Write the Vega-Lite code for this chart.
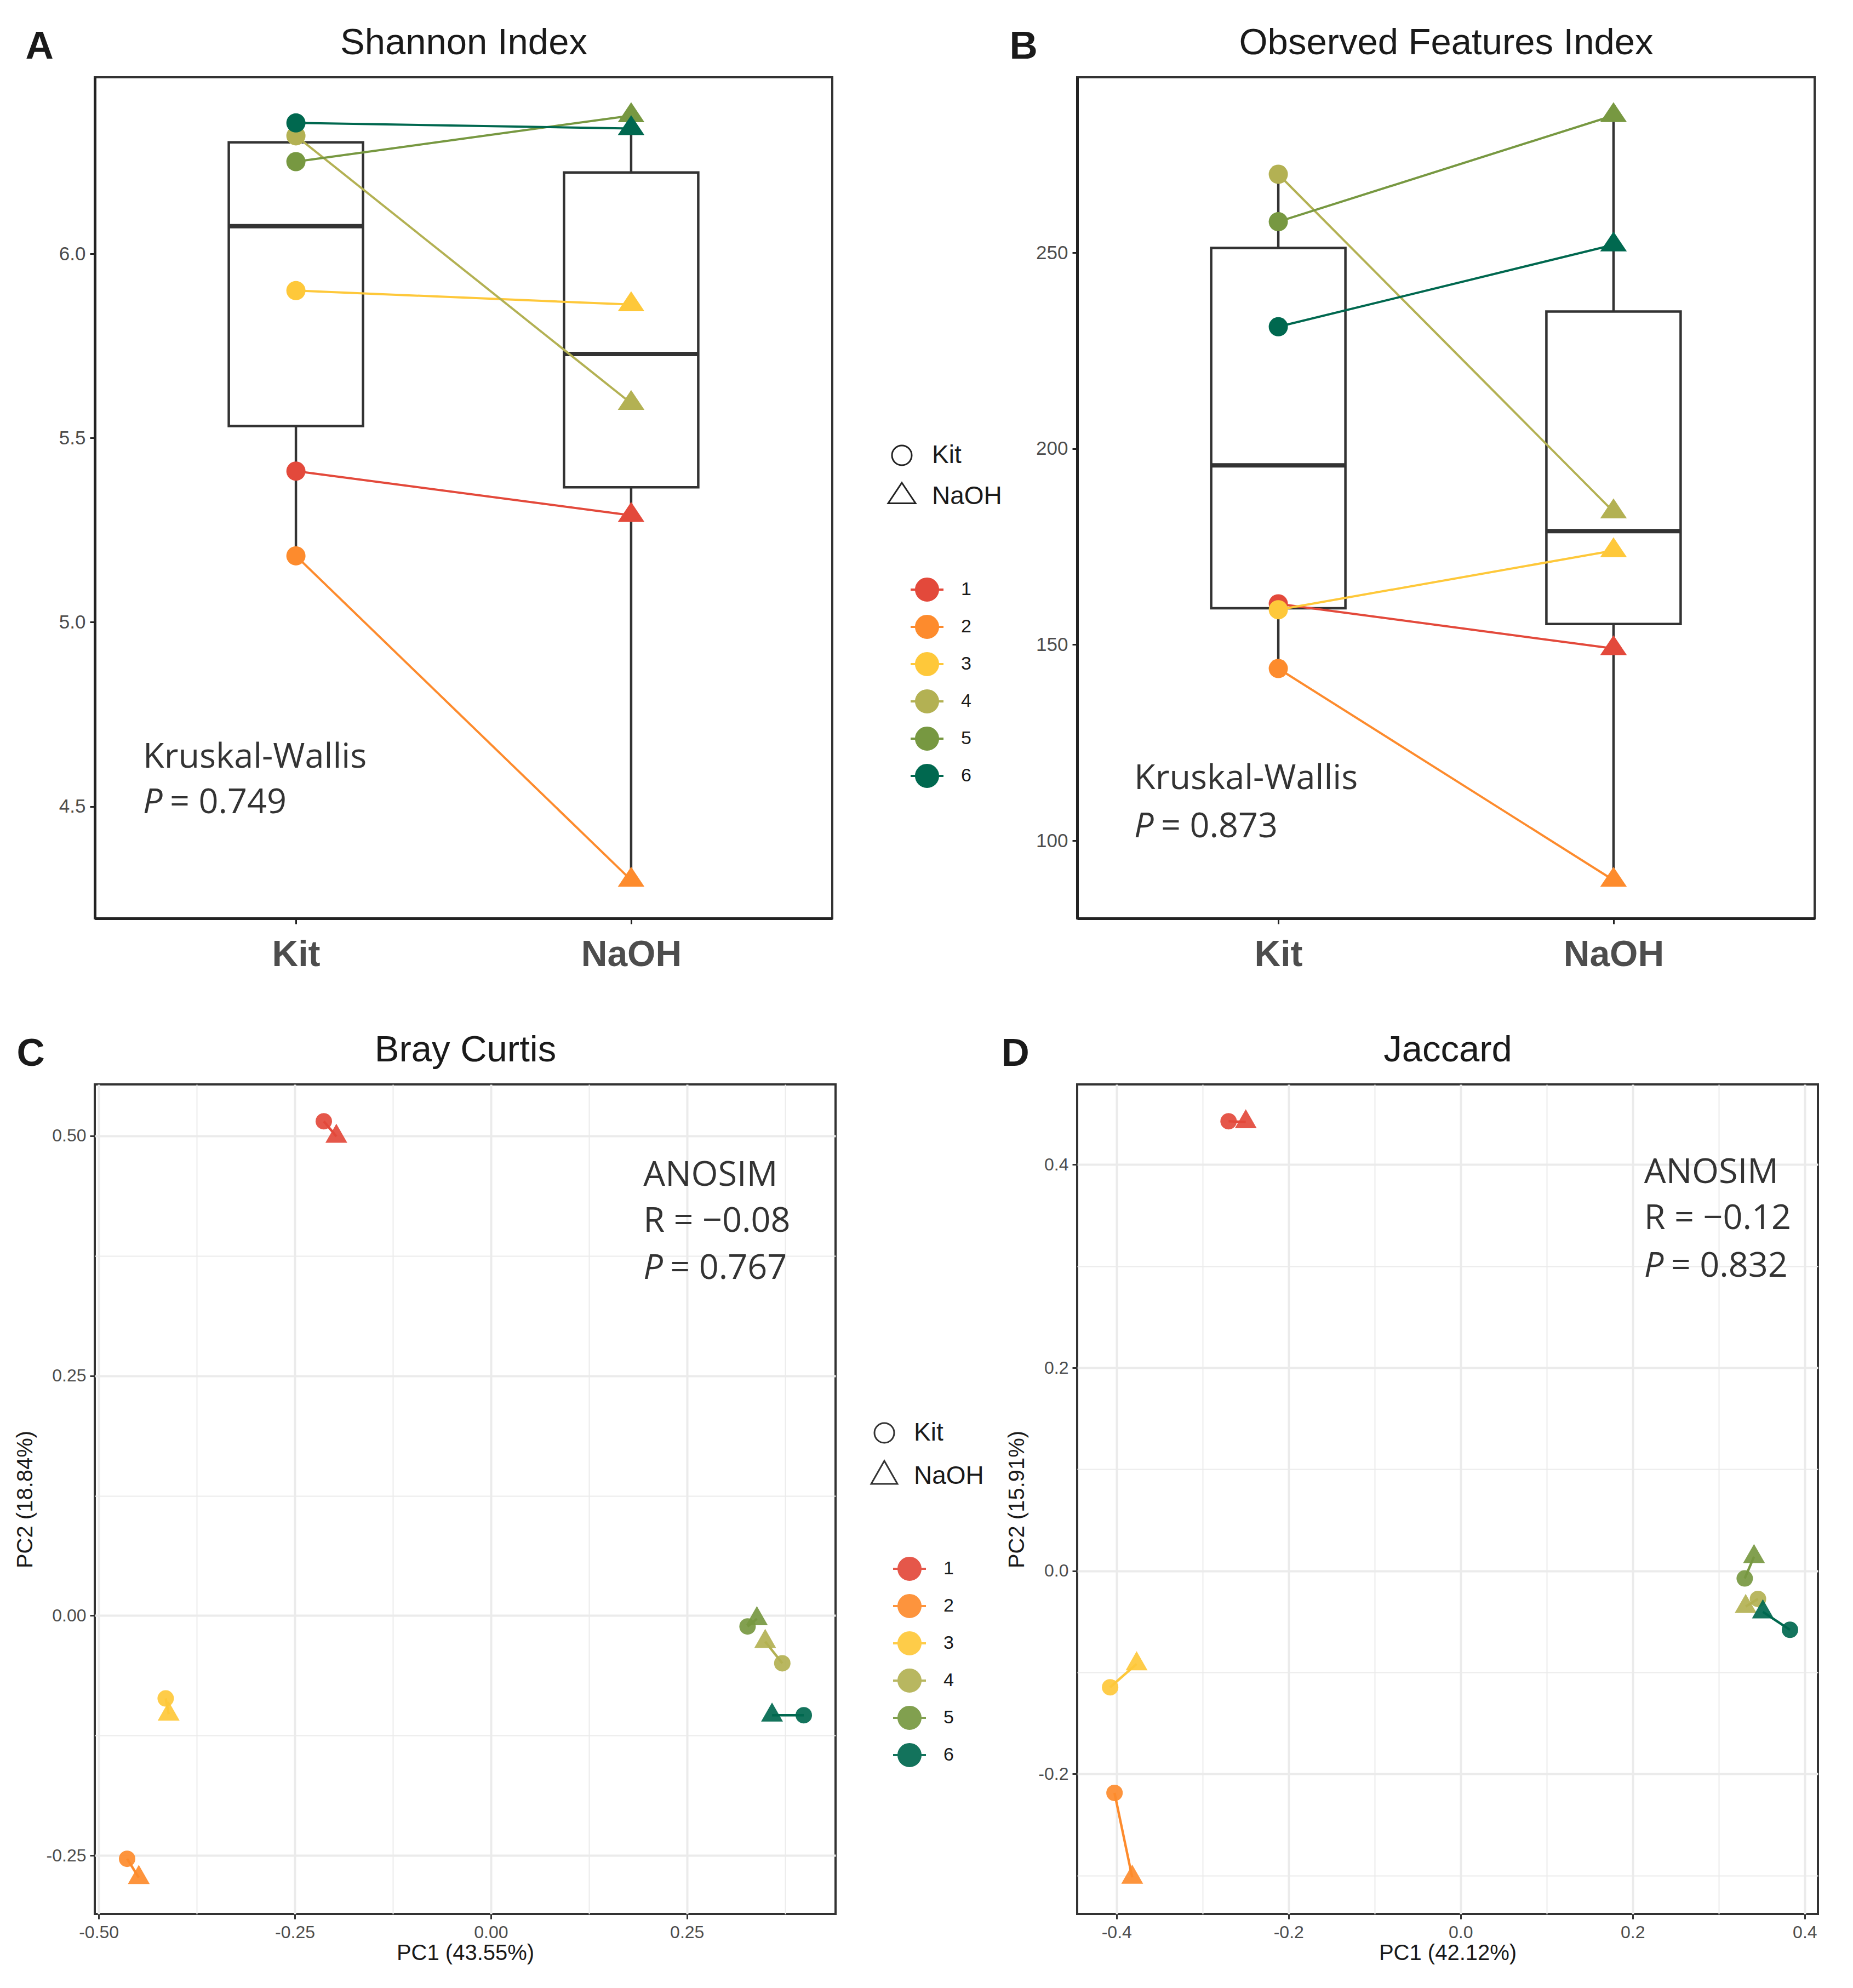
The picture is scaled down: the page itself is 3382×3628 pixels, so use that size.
{
  "$schema": "https://vega.github.io/schema/vega-lite/v6.json",
  "background": "white",
  "padding": {"left": 24, "top": 42, "right": 10, "bottom": 10},
  "bounds": "flush",
  "columns": 2,
  "spacing": {"row": 303, "column": 441},
  "resolve": {
    "scale": {"color": "independent", "shape": "independent"},
    "legend": {"color": "independent", "shape": "independent"}
  },
  "datasets": {
    "alpha": [
      {"subject": "1", "method": "Kit", "shannon": 5.41, "observed": 160.4},
      {"subject": "1", "method": "NaOH", "shannon": 5.29, "observed": 149.0},
      {"subject": "2", "method": "Kit", "shannon": 5.18, "observed": 143.9},
      {"subject": "2", "method": "NaOH", "shannon": 4.30, "observed": 89.9},
      {"subject": "3", "method": "Kit", "shannon": 5.90, "observed": 158.9},
      {"subject": "3", "method": "NaOH", "shannon": 5.862, "observed": 174.0},
      {"subject": "4", "method": "Kit", "shannon": 6.32, "observed": 270.0},
      {"subject": "4", "method": "NaOH", "shannon": 5.594, "observed": 183.9},
      {"subject": "5", "method": "Kit", "shannon": 6.25, "observed": 257.9},
      {"subject": "5", "method": "NaOH", "shannon": 6.375, "observed": 285.0},
      {"subject": "6", "method": "Kit", "shannon": 6.355, "observed": 231.1},
      {"subject": "6", "method": "NaOH", "shannon": 6.34, "observed": 252.0}
    ],
    "beta": [
      {"subject": "1", "method": "Kit", "bc1": -0.213, "bc2": 0.5152, "jac1": -0.2697, "jac2": 0.4427},
      {"subject": "1", "method": "NaOH", "bc1": -0.197, "bc2": 0.4994, "jac1": -0.2497, "jac2": 0.4421},
      {"subject": "2", "method": "Kit", "bc1": -0.4638, "bc2": -0.2534, "jac1": -0.4023, "jac2": -0.2187},
      {"subject": "2", "method": "NaOH", "bc1": -0.4489, "bc2": -0.273, "jac1": -0.3817, "jac2": -0.3019},
      {"subject": "3", "method": "Kit", "bc1": -0.4146, "bc2": -0.0863, "jac1": -0.4074, "jac2": -0.1147},
      {"subject": "3", "method": "NaOH", "bc1": -0.4108, "bc2": -0.1027, "jac1": -0.3766, "jac2": -0.0917},
      {"subject": "4", "method": "Kit", "bc1": 0.3716, "bc2": -0.0497, "jac1": 0.3457, "jac2": -0.0277},
      {"subject": "4", "method": "NaOH", "bc1": 0.3498, "bc2": -0.0271, "jac1": 0.3314, "jac2": -0.0352},
      {"subject": "5", "method": "Kit", "bc1": 0.3273, "bc2": -0.0113, "jac1": 0.3303, "jac2": -0.0075},
      {"subject": "5", "method": "NaOH", "bc1": 0.3392, "bc2": -0.0034, "jac1": 0.3411, "jac2": 0.0139},
      {"subject": "6", "method": "Kit", "bc1": 0.399, "bc2": -0.1038, "jac1": 0.3829, "jac2": -0.0581},
      {"subject": "6", "method": "NaOH", "bc1": 0.3585, "bc2": -0.1038, "jac1": 0.3514, "jac2": -0.0405}
    ]
  },
  "concat": [
    {
      "width": 1346,
      "height": 1535,
      "data": {"name": "alpha"},
      "resolve": {"axis": {"x": "independent", "y": "independent"}},
      "layer": [
        {
          "mark": {"type": "boxplot", "extent": "min-max", "size": 245, "ticks": false, "outliers": false,
            "box": {"color": "white", "stroke": "#333333", "strokeWidth": 4.5, "opacity": 1},
            "median": {"color": "#333333", "thickness": 8, "opacity": 1},
            "rule": {"color": "#333333", "strokeWidth": 4.5, "opacity": 1}},
          "encoding": {
            "x": {"field": "method", "type": "nominal", "scale": {"type": "point", "domain": ["Kit", "NaOH"], "padding": 0.6}, "axis": null},
            "y": {"field": "shannon", "type": "quantitative", "scale": {"domain": [4.196, 6.479], "nice": false, "zero": false}, "axis": null}
          }
        },
        {
          "mark": {"type": "line", "strokeWidth": 4},
          "encoding": {
            "x": {"field": "method", "type": "nominal", "axis": {"orient": "top", "labels": false, "ticks": false, "domain": false, "grid": false, "title": "Shannon Index", "titleX": 673, "titleY": -63, "titleAngle": 0, "titleAlign": "center", "titleBaseline": "middle", "titleFontSize": 67}},
            "y": {"field": "shannon", "type": "quantitative", "axis": null},
            "color": {"field": "subject", "type": "nominal", "scale": {"domain": ["1", "2", "3", "4", "5", "6"], "range": ["#E3493B", "#FD8B2D", "#FEC83A", "#B3B153", "#779841", "#00684F"]}},
            "detail": {"field": "subject"}
          }
        },
        {
          "mark": {"type": "point", "filled": true, "opacity": 1, "size": 1225},
          "encoding": {
            "x": {"field": "method", "type": "nominal", "axis": {"orient": "bottom", "title": null, "domain": true, "domainColor": "#222222", "domainWidth": 5, "tickSize": 10, "tickWidth": 3, "tickColor": "#222222", "labelFont": "Liberation Sans Narrow, Arial Narrow, Liberation Sans, sans-serif", "labelFontWeight": "bold", "labelFontSize": 66, "labelColor": "#4D4D4D", "labelPadding": 24, "labelAngle": 0, "labelAlign": "center", "labelBaseline": "top", "labelLimit": 600}},
            "y": {"field": "shannon", "type": "quantitative", "axis": {"orient": "left", "values": [4.5, 5, 5.5, 6], "format": ".1f", "domain": true, "domainColor": "#222222", "domainWidth": 5, "tickSize": 9, "tickWidth": 3, "tickColor": "#222222", "labelFontSize": 35, "labelPadding": 8, "title": "A", "titleX": -127, "titleY": -56, "titleAngle": 0, "titleAlign": "left", "titleBaseline": "middle", "titleFontSize": 71, "titleFontWeight": "bold"}},
            "color": {"field": "subject", "type": "nominal", "legend": {"title": null, "orient": "none", "legendX": 1487, "legendY": 903, "direction": "vertical", "symbolType": "M-1,0L1,0M0.667,0A0.667,0.667,0,1,1,-0.667,0A0.667,0.667,0,1,1,0.667,0Z", "symbolSize": 3600, "symbolStrokeWidth": 4, "labelFontSize": 34, "labelOffset": 30, "rowPadding": 7, "padding": 0}},
            "shape": {"field": "method", "type": "nominal", "scale": {"domain": ["Kit", "NaOH"], "range": ["circle", "M0,-1.39L1.39,0.69L-1.39,0.69Z"]}, "legend": {"title": null, "orient": "none", "legendX": 1450, "legendY": 667, "direction": "vertical", "symbolSize": 1296, "symbolFillColor": "transparent", "symbolStrokeColor": "#222222", "symbolStrokeWidth": 3, "labelFontSize": 46, "labelOffset": 32, "rowPadding": 19, "padding": 0}}
          }
        },
        {
          "data": {"values": [{"t": "Kruskal-Wallis"}]},
          "mark": {"type": "text", "align": "left", "baseline": "middle", "font": "Open Sans", "fontSize": 63, "color": "#333333", "dx": -279},
          "encoding": {"x": {"datum": "Kit", "type": "nominal", "axis": null}, "y": {"datum": 4.634, "type": "quantitative", "axis": null}, "text": {"field": "t"}}
        },
        {
          "data": {"values": [{"t": "P"}]},
          "mark": {"type": "text", "align": "left", "baseline": "middle", "font": "Open Sans", "fontStyle": "italic", "fontSize": 63, "color": "#333333", "dx": -279},
          "encoding": {"x": {"datum": "Kit", "type": "nominal", "axis": null}, "y": {"datum": 4.51, "type": "quantitative", "axis": null}, "text": {"field": "t"}}
        },
        {
          "data": {"values": [{"t": "= 0.749"}]},
          "mark": {"type": "text", "align": "left", "baseline": "middle", "font": "Open Sans", "fontSize": 63, "color": "#333333", "dx": -230},
          "encoding": {"x": {"datum": "Kit", "type": "nominal", "axis": null}, "y": {"datum": 4.51, "type": "quantitative", "axis": null}, "text": {"field": "t"}}
        }
      ]
    },
    {
      "width": 1346,
      "height": 1535,
      "data": {"name": "alpha"},
      "resolve": {"axis": {"x": "independent", "y": "independent"}},
      "layer": [
        {
          "mark": {"type": "boxplot", "extent": "min-max", "size": 245, "ticks": false, "outliers": false,
            "box": {"color": "white", "stroke": "#333333", "strokeWidth": 4.5, "opacity": 1},
            "median": {"color": "#333333", "thickness": 8, "opacity": 1},
            "rule": {"color": "#333333", "strokeWidth": 4.5, "opacity": 1}},
          "encoding": {
            "x": {"field": "method", "type": "nominal", "scale": {"type": "point", "domain": ["Kit", "NaOH"], "padding": 0.6}, "axis": null},
            "y": {"field": "observed", "type": "quantitative", "scale": {"domain": [80.15, 294.75], "nice": false, "zero": false}, "axis": null}
          }
        },
        {
          "mark": {"type": "line", "strokeWidth": 4},
          "encoding": {
            "x": {"field": "method", "type": "nominal", "axis": {"orient": "top", "labels": false, "ticks": false, "domain": false, "grid": false, "title": "Observed Features Index", "titleX": 673, "titleY": -63, "titleAngle": 0, "titleAlign": "center", "titleBaseline": "middle", "titleFontSize": 67}},
            "y": {"field": "observed", "type": "quantitative", "axis": null},
            "color": {"field": "subject", "type": "nominal", "scale": {"domain": ["1", "2", "3", "4", "5", "6"], "range": ["#E3493B", "#FD8B2D", "#FEC83A", "#B3B153", "#779841", "#00684F"]}, "legend": null},
            "detail": {"field": "subject"}
          }
        },
        {
          "mark": {"type": "point", "filled": true, "opacity": 1, "size": 1225},
          "encoding": {
            "x": {"field": "method", "type": "nominal", "axis": {"orient": "bottom", "title": null, "domain": true, "domainColor": "#222222", "domainWidth": 5, "tickSize": 10, "tickWidth": 3, "tickColor": "#222222", "labelFont": "Liberation Sans Narrow, Arial Narrow, Liberation Sans, sans-serif", "labelFontWeight": "bold", "labelFontSize": 66, "labelColor": "#4D4D4D", "labelPadding": 24, "labelAngle": 0, "labelAlign": "center", "labelBaseline": "top", "labelLimit": 600}},
            "y": {"field": "observed", "type": "quantitative", "axis": {"orient": "left", "values": [100, 150, 200, 250], "format": "d", "domain": true, "domainColor": "#222222", "domainWidth": 5, "tickSize": 9, "tickWidth": 3, "tickColor": "#222222", "labelFontSize": 35, "labelPadding": 8, "title": "B", "titleX": -124, "titleY": -56, "titleAngle": 0, "titleAlign": "left", "titleBaseline": "middle", "titleFontSize": 71, "titleFontWeight": "bold"}},
            "color": {"field": "subject", "type": "nominal", "legend": null},
            "shape": {"field": "method", "type": "nominal", "scale": {"domain": ["Kit", "NaOH"], "range": ["circle", "M0,-1.39L1.39,0.69L-1.39,0.69Z"]}, "legend": null}
          }
        },
        {
          "data": {"values": [{"t": "Kruskal-Wallis"}]},
          "mark": {"type": "text", "align": "left", "baseline": "middle", "font": "Open Sans", "fontSize": 63, "color": "#333333", "dx": -263},
          "encoding": {"x": {"datum": "Kit", "type": "nominal", "axis": null}, "y": {"datum": 115.8, "type": "quantitative", "axis": null}, "text": {"field": "t"}}
        },
        {
          "data": {"values": [{"t": "P"}]},
          "mark": {"type": "text", "align": "left", "baseline": "middle", "font": "Open Sans", "fontStyle": "italic", "fontSize": 63, "color": "#333333", "dx": -263},
          "encoding": {"x": {"datum": "Kit", "type": "nominal", "axis": null}, "y": {"datum": 103.5, "type": "quantitative", "axis": null}, "text": {"field": "t"}}
        },
        {
          "data": {"values": [{"t": "= 0.873"}]},
          "mark": {"type": "text", "align": "left", "baseline": "middle", "font": "Open Sans", "fontSize": 63, "color": "#333333", "dx": -214},
          "encoding": {"x": {"datum": "Kit", "type": "nominal", "axis": null}, "y": {"datum": 103.5, "type": "quantitative", "axis": null}, "text": {"field": "t"}}
        }
      ]
    },
    {
      "width": 1352,
      "height": 1514,
      "data": {"name": "beta"},
      "resolve": {"axis": {"x": "independent", "y": "independent"}},
      "layer": [
        {
          "mark": {"type": "line", "strokeWidth": 4.5},
          "encoding": {
            "x": {"field": "bc1", "type": "quantitative", "scale": {"domain": [-0.505, 0.4395], "nice": false, "zero": false}, "axis": {"orient": "bottom", "values": [-0.5, -0.25, 0, 0.25], "labelExpr": "(datum.value < 0 ? '-' : '') + format(abs(datum.value), '.2f')", "grid": true, "gridColor": "#EBEBEB", "gridWidth": 4, "domain": false, "tickSize": 9, "tickWidth": 3, "tickColor": "#333333", "labelFontSize": 32, "labelPadding": 9, "title": "PC1 (43.55%)", "titleX": 676, "titleY": 71, "titleAlign": "center", "titleBaseline": "middle", "titleFontSize": 40}},
            "y": {"field": "bc2", "type": "quantitative", "scale": {"domain": [-0.311, 0.5536], "nice": false, "zero": false}, "axis": {"orient": "left", "values": [-0.25, 0, 0.25, 0.5], "labelExpr": "(datum.value < 0 ? '-' : '') + format(abs(datum.value), '.2f')", "grid": true, "gridColor": "#EBEBEB", "gridWidth": 4, "domain": false, "tickSize": 9, "tickWidth": 3, "tickColor": "#333333", "labelFontSize": 32, "labelPadding": 7, "title": "PC2 (18.84%)", "titleX": -127, "titleY": 757, "titleAngle": -90, "titleAlign": "center", "titleBaseline": "middle", "titleFontSize": 40}},
            "color": {"field": "subject", "type": "nominal", "scale": {"domain": ["1", "2", "3", "4", "5", "6"], "range": ["#E3493B", "#FD8B2D", "#FEC83A", "#B3B153", "#779841", "#00684F"]}},
            "detail": {"field": "subject"}
          }
        },
        {
          "mark": {"type": "point", "filled": true, "opacity": 0.92, "size": 900},
          "encoding": {
            "x": {"field": "bc1", "type": "quantitative", "axis": {"orient": "top", "values": [-0.375, -0.125, 0.125, 0.375], "grid": true, "gridColor": "#EBEBEB", "gridWidth": 2, "labels": false, "ticks": false, "domain": false, "title": "Bray Curtis", "titleX": 676, "titleY": -63, "titleAngle": 0, "titleAlign": "center", "titleBaseline": "middle", "titleFontSize": 67}},
            "y": {"field": "bc2", "type": "quantitative", "axis": {"orient": "right", "values": [-0.125, 0.125, 0.375], "grid": true, "gridColor": "#EBEBEB", "gridWidth": 2, "labels": false, "ticks": false, "domain": false, "title": "C", "titleX": -1495, "titleY": -56, "titleAngle": 0, "titleAlign": "left", "titleBaseline": "middle", "titleFontSize": 71, "titleFontWeight": "bold"}},
            "color": {"field": "subject", "type": "nominal", "legend": {"title": null, "orient": "none", "legendX": 1455, "legendY": 852, "direction": "vertical", "symbolType": "M-1,0L1,0M0.667,0A0.667,0.667,0,1,1,-0.667,0A0.667,0.667,0,1,1,0.667,0Z", "symbolSize": 3600, "symbolStrokeWidth": 4, "labelFontSize": 34, "labelOffset": 30, "rowPadding": 7, "padding": 0}},
            "shape": {"field": "method", "type": "nominal", "scale": {"domain": ["Kit", "NaOH"], "range": ["circle", "M0,-1.55L1.33,0.78L-1.33,0.78Z"]}, "legend": {"title": null, "orient": "none", "legendX": 1418, "legendY": 613, "direction": "vertical", "symbolSize": 1296, "symbolFillColor": "transparent", "symbolStrokeColor": "#222222", "symbolStrokeWidth": 3, "labelFontSize": 46, "labelOffset": 31, "rowPadding": 21, "padding": 0}}
          }
        },
        {
          "data": {"values": [{"t": "ANOSIM"}]},
          "mark": {"type": "text", "align": "left", "baseline": "middle", "font": "Open Sans", "fontSize": 63, "color": "#333333"},
          "encoding": {"x": {"datum": 0.1945, "type": "quantitative", "axis": null}, "y": {"datum": 0.459, "type": "quantitative", "axis": null}, "text": {"field": "t"}}
        },
        {
          "data": {"values": [{"t": "R = −0.08"}]},
          "mark": {"type": "text", "align": "left", "baseline": "middle", "font": "Open Sans", "fontSize": 63, "color": "#333333"},
          "encoding": {"x": {"datum": 0.1945, "type": "quantitative", "axis": null}, "y": {"datum": 0.411, "type": "quantitative", "axis": null}, "text": {"field": "t"}}
        },
        {
          "data": {"values": [{"t": "P"}]},
          "mark": {"type": "text", "align": "left", "baseline": "middle", "font": "Open Sans", "fontStyle": "italic", "fontSize": 63, "color": "#333333"},
          "encoding": {"x": {"datum": 0.1945, "type": "quantitative", "axis": null}, "y": {"datum": 0.362, "type": "quantitative", "axis": null}, "text": {"field": "t"}}
        },
        {
          "data": {"values": [{"t": "= 0.767"}]},
          "mark": {"type": "text", "align": "left", "baseline": "middle", "font": "Open Sans", "fontSize": 63, "color": "#333333", "dx": 49},
          "encoding": {"x": {"datum": 0.1945, "type": "quantitative", "axis": null}, "y": {"datum": 0.362, "type": "quantitative", "axis": null}, "text": {"field": "t"}}
        }
      ]
    },
    {
      "width": 1352,
      "height": 1514,
      "data": {"name": "beta"},
      "resolve": {"axis": {"x": "independent", "y": "independent"}},
      "layer": [
        {
          "mark": {"type": "line", "strokeWidth": 4.5},
          "encoding": {
            "x": {"field": "jac1", "type": "quantitative", "scale": {"domain": [-0.4457, 0.4154], "nice": false, "zero": false}, "axis": {"orient": "bottom", "values": [-0.4, -0.2, 0, 0.2, 0.4], "labelExpr": "(datum.value < 0 ? '-' : '') + format(abs(datum.value), '.1f')", "grid": true, "gridColor": "#EBEBEB", "gridWidth": 4, "domain": false, "tickSize": 9, "tickWidth": 3, "tickColor": "#333333", "labelFontSize": 32, "labelPadding": 9, "title": "PC1 (42.12%)", "titleX": 676, "titleY": 71, "titleAlign": "center", "titleBaseline": "middle", "titleFontSize": 40}},
            "y": {"field": "jac2", "type": "quantitative", "scale": {"domain": [-0.338, 0.479], "nice": false, "zero": false}, "axis": {"orient": "left", "values": [-0.2, 0, 0.2, 0.4], "labelExpr": "(datum.value < 0 ? '-' : '') + format(abs(datum.value), '.1f')", "grid": true, "gridColor": "#EBEBEB", "gridWidth": 4, "domain": false, "tickSize": 9, "tickWidth": 3, "tickColor": "#333333", "labelFontSize": 32, "labelPadding": 7, "title": "PC2 (15.91%)", "titleX": -110, "titleY": 757, "titleAngle": -90, "titleAlign": "center", "titleBaseline": "middle", "titleFontSize": 40}},
            "color": {"field": "subject", "type": "nominal", "scale": {"domain": ["1", "2", "3", "4", "5", "6"], "range": ["#E3493B", "#FD8B2D", "#FEC83A", "#B3B153", "#779841", "#00684F"]}, "legend": null},
            "detail": {"field": "subject"}
          }
        },
        {
          "mark": {"type": "point", "filled": true, "opacity": 0.92, "size": 900},
          "encoding": {
            "x": {"field": "jac1", "type": "quantitative", "axis": {"orient": "top", "values": [-0.3, -0.1, 0.1, 0.3], "grid": true, "gridColor": "#EBEBEB", "gridWidth": 2, "labels": false, "ticks": false, "domain": false, "title": "Jaccard", "titleX": 676, "titleY": -63, "titleAngle": 0, "titleAlign": "center", "titleBaseline": "middle", "titleFontSize": 67}},
            "y": {"field": "jac2", "type": "quantitative", "axis": {"orient": "right", "values": [-0.3, -0.1, 0.1, 0.3], "grid": true, "gridColor": "#EBEBEB", "gridWidth": 2, "labels": false, "ticks": false, "domain": false, "title": "D", "titleX": -1491, "titleY": -56, "titleAngle": 0, "titleAlign": "left", "titleBaseline": "middle", "titleFontSize": 71, "titleFontWeight": "bold"}},
            "color": {"field": "subject", "type": "nominal", "legend": null},
            "shape": {"field": "method", "type": "nominal", "scale": {"domain": ["Kit", "NaOH"], "range": ["circle", "M0,-1.55L1.33,0.78L-1.33,0.78Z"]}, "legend": null}
          }
        },
        {
          "data": {"values": [{"t": "ANOSIM"}]},
          "mark": {"type": "text", "align": "left", "baseline": "middle", "font": "Open Sans", "fontSize": 63, "color": "#333333"},
          "encoding": {"x": {"datum": 0.2134, "type": "quantitative", "axis": null}, "y": {"datum": 0.392, "type": "quantitative", "axis": null}, "text": {"field": "t"}}
        },
        {
          "data": {"values": [{"t": "R = −0.12"}]},
          "mark": {"type": "text", "align": "left", "baseline": "middle", "font": "Open Sans", "fontSize": 63, "color": "#333333"},
          "encoding": {"x": {"datum": 0.2134, "type": "quantitative", "axis": null}, "y": {"datum": 0.3467, "type": "quantitative", "axis": null}, "text": {"field": "t"}}
        },
        {
          "data": {"values": [{"t": "P"}]},
          "mark": {"type": "text", "align": "left", "baseline": "middle", "font": "Open Sans", "fontStyle": "italic", "fontSize": 63, "color": "#333333"},
          "encoding": {"x": {"datum": 0.2134, "type": "quantitative", "axis": null}, "y": {"datum": 0.3, "type": "quantitative", "axis": null}, "text": {"field": "t"}}
        },
        {
          "data": {"values": [{"t": "= 0.832"}]},
          "mark": {"type": "text", "align": "left", "baseline": "middle", "font": "Open Sans", "fontSize": 63, "color": "#333333", "dx": 49},
          "encoding": {"x": {"datum": 0.2134, "type": "quantitative", "axis": null}, "y": {"datum": 0.3, "type": "quantitative", "axis": null}, "text": {"field": "t"}}
        }
      ]
    }
  ],
  "config": {
    "view": {"stroke": "#333333", "strokeWidth": 4},
    "axis": {
      "labelFont": "Liberation Sans, Arial, sans-serif",
      "labelColor": "#4D4D4D",
      "titleFont": "Liberation Sans, Arial, sans-serif",
      "titleColor": "#1A1A1A",
      "titleFontWeight": "normal",
      "grid": false
    },
    "legend": {
      "labelFont": "Liberation Sans, Arial, sans-serif",
      "labelColor": "#1A1A1A",
      "labelLimit": 400
    }
  }
}
